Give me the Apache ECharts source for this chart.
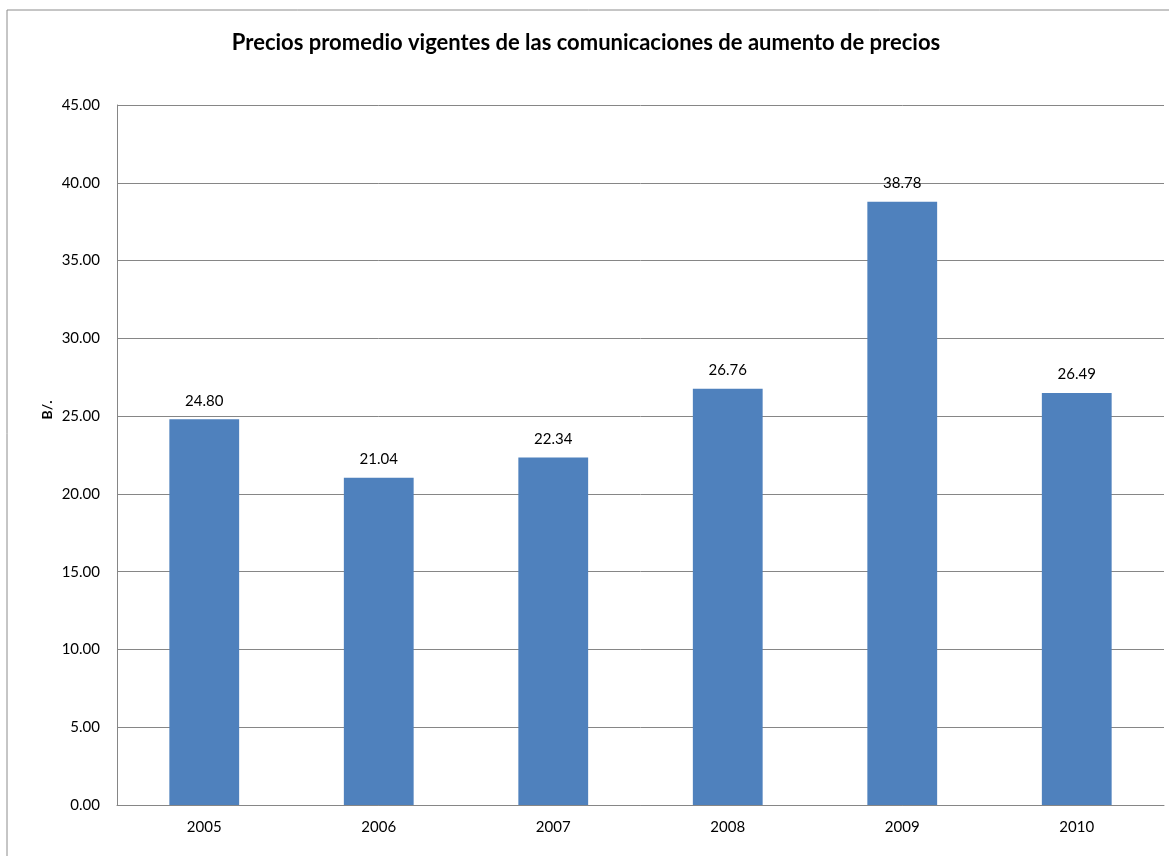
<!DOCTYPE html>
<html>
<head>
<meta charset="utf-8">
<script src="https://cdn.jsdelivr.net/npm/echarts@6/dist/echarts.min.js"></script>
<style>
  html, body { margin: 0; padding: 0; background: #fff; }
  #chart { width: 1169px; height: 856px; }
</style>
</head>
<body>
<div id="chart"></div>
<script>
// Average prices by year (B/.)
const years = ['2005', '2006', '2007', '2008', '2009', '2010'];
const prices = [24.80, 21.04, 22.34, 26.76, 38.78, 26.49];
const titleText = 'Precios promedio vigentes de las comunicaciones de aumento de precios';
const yAxisName = 'B/.';

const FONT = 'Lato, "Open Sans", sans-serif';
const chart = echarts.init(document.getElementById('chart'), null, { renderer: 'canvas' });

chart.setOption({
  backgroundColor: '#ffffff',
  animation: false,
  graphic: [
    {
      // outer chart frame
      type: 'rect',
      shape: { x: 7, y: 10, width: 1200, height: 900 },
      style: { fill: 'none', stroke: '#8c8c8c', lineWidth: 1 },
      silent: true
    },
    {
      // value axis title
      type: 'text',
      x: 47,
      y: 410,
      rotation: Math.PI / 2,
      style: {
        text: yAxisName,
        font: 'bold 14px ' + FONT,
        fill: '#000',
        align: 'center',
        verticalAlign: 'middle'
      },
      silent: true
    }
  ],
  title: {
    text: titleText,
    left: 581,
    textAlign: 'center',
    top: 27,
    textStyle: { fontFamily: FONT, fontWeight: 'bold', fontSize: 22, color: '#000' }
  },
  grid: { left: 117, right: 5, top: 105, bottom: 51, containLabel: false },
  xAxis: {
    type: 'category',
    data: years,
    axisLine: { lineStyle: { color: '#868686', width: 1 } },
    axisTick: { show: false },
    axisLabel: { fontFamily: FONT, fontSize: 15, color: '#000', margin: 15 }
  },
  yAxis: {
    type: 'value',
    min: 0,
    max: 45,
    interval: 5,
    axisLine: { show: true, lineStyle: { color: '#868686', width: 1 } },
    axisTick: { show: false },
    splitLine: { lineStyle: { color: '#868686', width: 1 } },
    axisLabel: {
      fontFamily: FONT, fontSize: 15, color: '#000', margin: 17,
      formatter: v => v.toFixed(2)
    }
  },
  series: [{
    type: 'bar',
    data: prices,
    barCategoryGap: '60%',
    itemStyle: { color: '#4f81bd' },
    label: {
      show: true,
      position: 'top',
      distance: 11,
      fontFamily: FONT,
      fontSize: 15,
      color: '#000',
      formatter: p => p.value.toFixed(2)
    }
  }]
});
</script>
</body>
</html>
